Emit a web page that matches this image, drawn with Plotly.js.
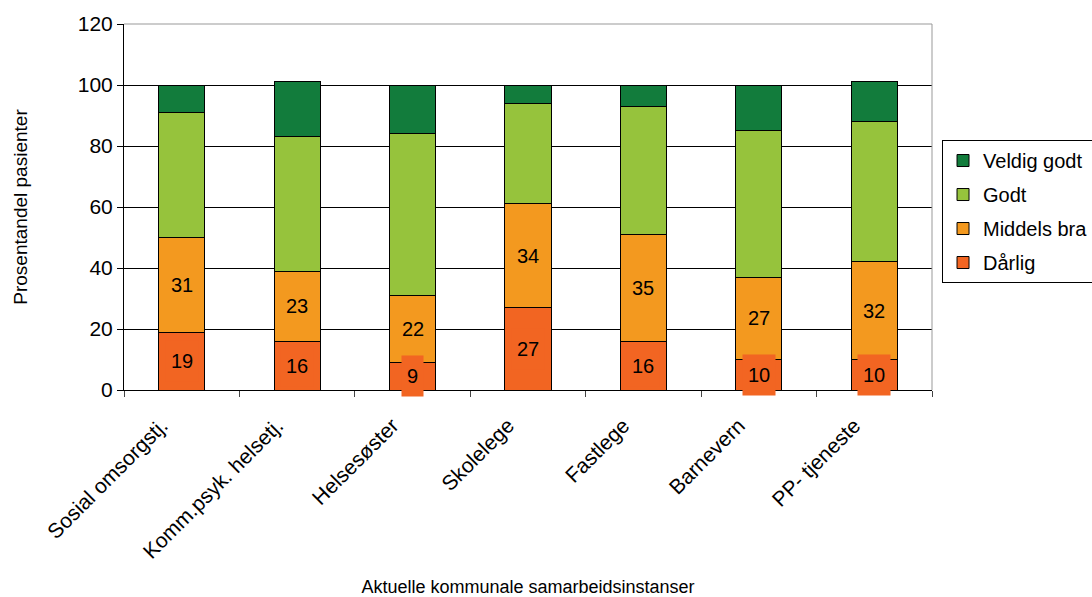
<!DOCTYPE html>
<html>
<head>
<meta charset="utf-8">
<script src="https://cdn.plot.ly/plotly-3.0.1.min.js"></script>
<style>
  html, body { margin: 0; padding: 0; background: #fff; }
  #chart { width: 1092px; height: 597px; }
</style>
</head>
<body>
<div id="chart"></div>
<script>
// Kommunale samarbeidsinstanser og vurdering av samarbeidet (prosent)
const instanser = ["Sosial omsorgstj.", "Komm.psyk. helsetj.", "Helsesøster", "Skolelege", "Fastlege", "Barnevern", "PP- tjeneste"];
const darlig     = [19, 16, 9, 27, 16, 10, 10];
const middelsBra = [31, 23, 22, 34, 35, 27, 32];
const godt       = [41, 44, 53, 33, 42, 48, 46];
const veldigGodt = [9, 18, 16, 6, 7, 15, 13];

const serier = [
  { name: "Dårlig",      values: darlig,     color: "#F26522", rank: 4 },
  { name: "Middels bra", values: middelsBra, color: "#F3991F", rank: 3 },
  { name: "Godt",        values: godt,       color: "#96C33C", rank: 2 },
  { name: "Veldig godt", values: veldigGodt, color: "#127C3C", rank: 1 }
];

const font = "Liberation Sans, Arial, sans-serif";

const traces = serier.map((s, i) => ({
  type: "bar",
  name: s.name,
  x: instanser,
  y: s.values,
  width: 0.4,
  legendgroup: "g" + i,
  legendrank: s.rank,
  marker: { color: s.color, line: { color: "#000", width: 1 } },
  hoverinfo: "name+y"
}));

// Verdietiketter midt i de to nederste segmentene
const annotations = [];
instanser.forEach((kat, j) => {
  annotations.push({
    x: kat, y: darlig[j] / 2, xref: "x", yref: "y",
    text: String(darlig[j]), showarrow: false,
    font: { family: font, size: 20, color: "#000" },
    bgcolor: "#F26522", borderpad: 5, height: 30
  });
  annotations.push({
    x: kat, y: darlig[j] + middelsBra[j] / 2, xref: "x", yref: "y",
    text: String(middelsBra[j]), showarrow: false,
    font: { family: font, size: 20, color: "#000" }
  });
});

const layout = {
  width: 1092, height: 597,
  margin: { l: 124, r: 160, t: 24, b: 207, autoexpand: false },
  paper_bgcolor: "#fff", plot_bgcolor: "#fff",
  barmode: "stack",
  font: { family: font, size: 20, color: "#000" },
  xaxis: {
    type: "category",
    tickson: "boundaries",
    ticks: "outside", ticklen: 6, tickcolor: "#444",
    tickangle: -45,
    ticklabelstandoff: 14,
    ticklabelshift: -20,
    tickfont: { family: font, size: 21, color: "#000" },
    showline: true, linecolor: "#000", linewidth: 1,
    showgrid: false,
    automargin: false,
    title: { text: "Aktuelle kommunale samarbeidsinstanser", font: { family: font, size: 18, color: "#000" }, standoff: 28 }
  },
  yaxis: {
    range: [0, 120], dtick: 20,
    ticks: "outside", ticklen: 6, tickcolor: "#000",
    tickfont: { family: font, size: 21, color: "#000" },
    showline: true, linecolor: "#000", linewidth: 1,
    showgrid: true, gridcolor: "#000", gridwidth: 1,
    zeroline: false,
    automargin: false,
    title: { text: "Prosentandel pasienter", font: { family: font, size: 19, color: "#000" }, standoff: 45 }
  },
  legend: {
    x: 1.0124, y: 0.683, xanchor: "left", yanchor: "top",
    traceorder: "grouped",
    tracegroupgap: 5,
    bordercolor: "#000", borderwidth: 1,
    bgcolor: "#fff",
    font: { family: font, size: 20, color: "#000" }
  },
  shapes: [
    { type: "line", xref: "paper", yref: "paper", x0: 0, x1: 1, y0: 1, y1: 1, line: { color: "#999", width: 1 }, layer: "above" },
    { type: "line", xref: "paper", yref: "paper", x0: 1, x1: 1, y0: 0, y1: 1, line: { color: "#999", width: 1 }, layer: "above" }
  ],
  annotations: annotations,
  showlegend: true
};

Plotly.newPlot("chart", traces, layout, { displayModeBar: false, staticPlot: true });
</script>
</body>
</html>
